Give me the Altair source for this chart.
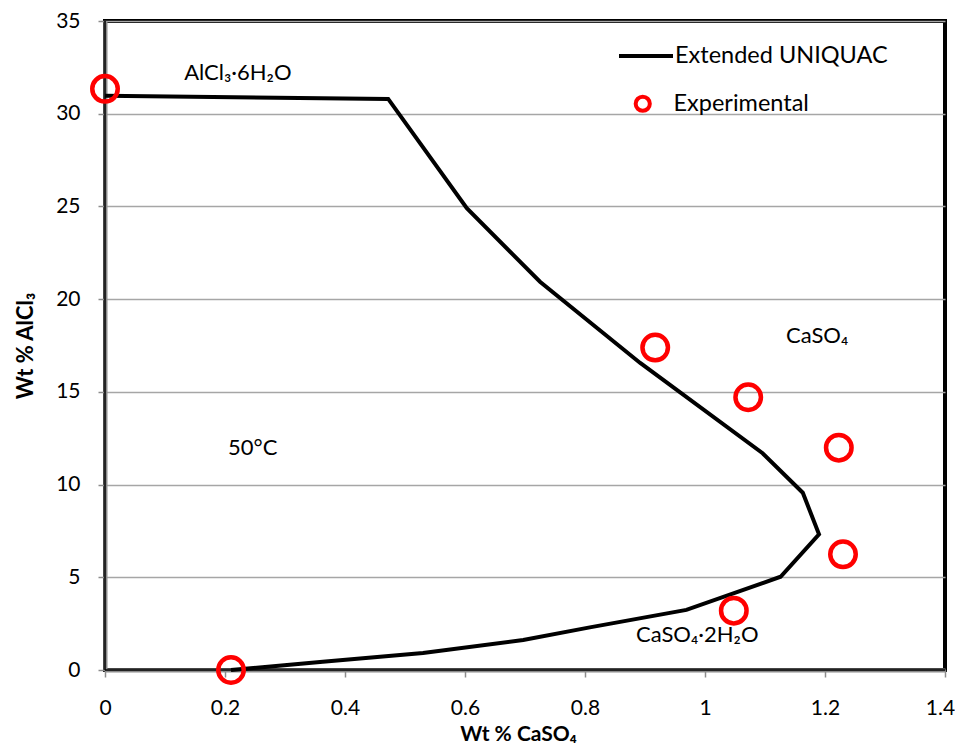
import altair as alt
import pandas as pd

FONT = "Lato, DejaVu Sans, sans-serif"

# Extended UNIQUAC model curve (Wt % CaSO4, Wt % AlCl3)
model_x = [0.0, 0.472, 0.603, 0.725, 0.892, 1.096, 1.163, 1.190, 1.126, 0.969, 0.808, 0.697, 0.530, 0.363, 0.253, 0.210]
model_y = [30.97, 30.80, 24.90, 20.94, 16.56, 11.69, 9.56, 7.32, 5.03, 3.24, 2.30, 1.62, 0.92, 0.45, 0.12, 0.0]

# Experimental points
exp_x = [0.0, 0.210, 0.917, 1.072, 1.223, 1.230, 1.048]
exp_y = [31.34, 0.0, 17.39, 14.71, 11.99, 6.24, 3.20]

x_ticks = [0, 0.2, 0.4, 0.6, 0.8, 1, 1.2, 1.4]
y_ticks = [0, 5, 10, 15, 20, 25, 30, 35]

note_text = ["AlCl₃·6H₂O", "50°C", "CaSO₄", "CaSO₄·2H₂O"]
note_x = [0.132, 0.205, 1.135, 0.885]
note_y = [31.82, 11.6, 17.64, 1.51]

model_df = pd.DataFrame({"x": model_x, "y": model_y, "i": list(range(len(model_x))),
                         "s": ["Extended UNIQUAC"] * len(model_x)})
exp_df = pd.DataFrame({"x": exp_x, "y": exp_y, "s": ["Experimental"] * len(exp_x)})
note_df = pd.DataFrame({"x": note_x, "y": note_y, "t": note_text})

xscale = alt.Scale(domain=[0, 1.4], nice=False, zero=False)
yscale = alt.Scale(domain=[0, 35], nice=False)
xaxis = alt.Axis(values=x_ticks, format="~g", title="Wt % CaSO₄", grid=False, labelFlush=False,
                 labelPadding=20,
                 labelOffset=alt.ConditionalAxisNumber(condition={"test": "datum.value > 1.39", "value": -5}, value=0),
                 titleBaseline="alphabetic", titleY=70, titleX=413, titleFontSize=21)
yaxis = alt.Axis(values=y_ticks, title="Wt % AlCl₃", grid=True, labelPadding=18,
                 titleBaseline="alphabetic", titleX=-73)


def X(**kw):
    return alt.X(scale=xscale, axis=xaxis, **kw)


def Y(**kw):
    return alt.Y(scale=yscale, axis=yaxis, **kw)


left_rule = alt.Chart(pd.DataFrame({"v": [0]})).mark_rule(color="black", strokeWidth=1.5).encode(
    x=X(datum=0))
bottom_rule = alt.Chart(pd.DataFrame({"v": [0]})).mark_rule(color="black", strokeWidth=1.5).encode(
    y=Y(datum=0))

line = alt.Chart(model_df).mark_line(strokeWidth=4).encode(
    x=X(field="x", type="quantitative"),
    y=Y(field="y", type="quantitative"),
    order=alt.Order("i:Q"),
    color=alt.Color("s:N", scale=alt.Scale(domain=["Extended UNIQUAC"], range=["black"]),
                    legend=alt.Legend(title=None, orient="none", legendX=512, legendY=6,
                                      symbolType="stroke", symbolSize=2916, symbolStrokeWidth=4,
                                      labelFont=FONT, labelFontSize=23.5, labelColor="black",
                                      labelOffset=0, labelLimit=0, padding=0)),
)

points = alt.Chart(exp_df).mark_point(filled=False, size=650, strokeWidth=4.5, opacity=1).encode(
    x=X(field="x", type="quantitative"),
    y=Y(field="y", type="quantitative"),
    stroke=alt.Stroke("s:N", scale=alt.Scale(domain=["Experimental"], range=["#ff0000"]),
                      legend=alt.Legend(title=None, orient="none", legendX=526, legendY=71,
                                        symbolType="circle", symbolSize=200, symbolStrokeWidth=4,
                                        labelFont=FONT, labelFontSize=23.5, labelColor="black",
                                        labelOffset=19, labelLimit=0, padding=0)),
)

notes = alt.Chart(note_df).mark_text(align="left", baseline="alphabetic", font=FONT,
                                     fontSize=22, color="black").encode(
    x=X(field="x", type="quantitative"),
    y=Y(field="y", type="quantitative"),
    text="t:N",
)

chart = alt.layer(left_rule, bottom_rule, line, points, notes).resolve_legend(
    color="independent", stroke="independent"
).properties(
    width=840, height=649,
    autosize=alt.AutoSizeParams(type="none"),
    padding={"left": 97, "top": 13, "right": 10, "bottom": 75},
    background="white",
).configure_view(
    stroke="black", strokeWidth=4
).configure_axis(
    domainColor="#8c8c8c", domainWidth=4, tickColor="#8c8c8c", tickWidth=1.5, tickSize=7,
    labelFont=FONT, labelFontSize=21, labelColor="black",
    titleFont=FONT, titleFontSize=22, titleFontWeight="bold", titleColor="black",
    gridColor="#a6a6a6", gridWidth=1.5,
)

chart.save("out.html", embed_options={"renderer": "svg", "actions": False})
